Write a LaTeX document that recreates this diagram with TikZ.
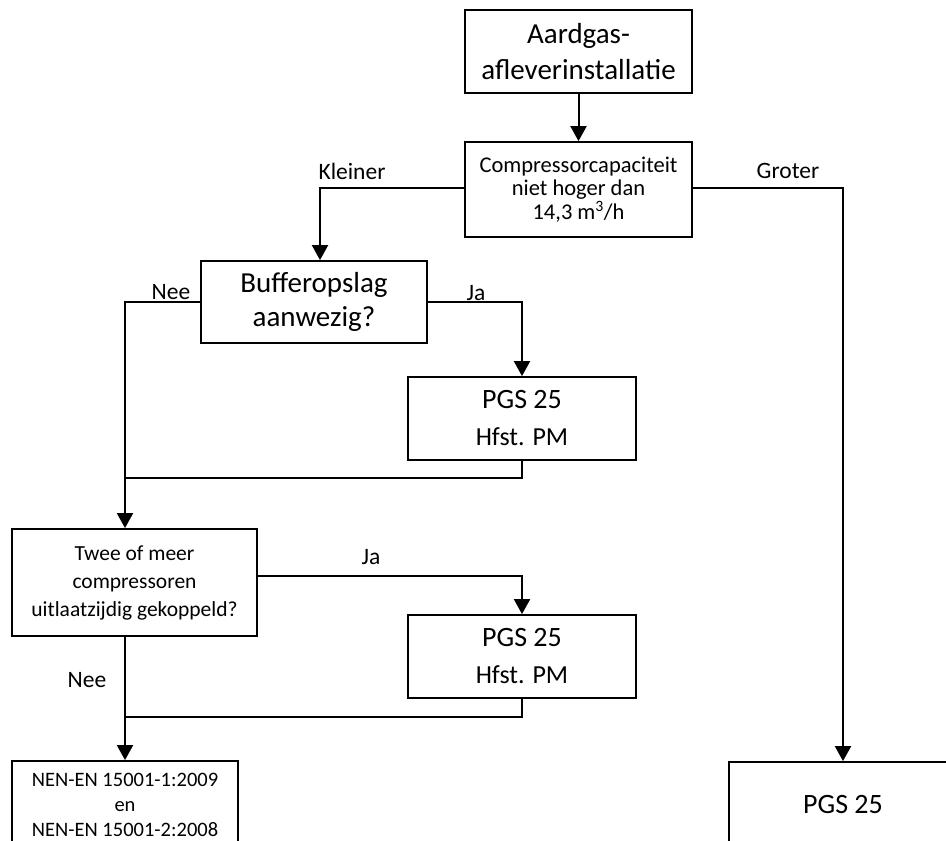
\documentclass[tikz,border=0pt]{standalone}
\usepackage{fontspec}
\setmainfont{Carlito}
\usetikzlibrary{arrows.meta}
\begin{document}
\begin{tikzpicture}[x=1pt,y=-1pt,
  box/.style={draw,line width=1.8pt,inner sep=0pt,align=center,text=black},
  bigtxt/.style={font=\fontsize{29}{34}\selectfont},
  lbl/.style={font=\fontsize{23.5}{26}\selectfont,inner sep=0pt},
  conn/.style={line width=1.6pt},
  arr/.style={line width=2pt,-{Triangle[width=16pt,length=15pt]}}]
\useasboundingbox (0,0) rectangle (946,841);

% nodes
\node[box,minimum width=227pt,minimum height=83pt,font=\fontsize{29}{36}\selectfont] (A) at (578.5,51.5) {Aardgas-\\afleverinstallatie};
\node[box,minimum width=227pt,minimum height=95pt,font=\fontsize{22.5}{23.5}\selectfont] (C) at (578.5,189.5) {Compressorcapaciteit\\niet hoger dan\\14,3 m\textsuperscript{3}/h};
\node[box,bigtxt,minimum width=226pt,minimum height=82pt] (B) at (314,302) {Bufferopslag\\aanwezig?};
\node[box,minimum width=228pt,minimum height=83pt,font=\fontsize{26}{37}\selectfont] (P1) at (522,418.5) {{\fontsize{28}{37}\selectfont PGS 25}\\Hfst. PM};
\node[box,minimum width=245pt,minimum height=107pt,font=\fontsize{21.5}{28}\selectfont] (T) at (134.5,582.5) {Twee of meer\\compressoren\\uitlaatzijdig gekoppeld?};
\node[box,minimum width=228pt,minimum height=83pt,font=\fontsize{26}{37}\selectfont] (P2) at (522,656.5) {{\fontsize{28}{37}\selectfont PGS 25}\\Hfst. PM};
\node[box,minimum width=226pt,minimum height=88pt,font=\fontsize{20.5}{25}\selectfont] (N) at (125,805) {NEN-EN 15001-1:2009\\en\\NEN-EN 15001-2:2008};
\node[box,minimum width=228pt,minimum height=86pt,font=\fontsize{28}{32}\selectfont] (R) at (843,805) {PGS 25};

% helper coordinates
\coordinate (kl) at (320,188);
\coordinate (kx) at (125,302);
\coordinate (m1) at (125,478);
\coordinate (j2) at (522,576);
\coordinate (m2) at (125,717);

% connectors
\draw[arr] (A.south) -- (C.north);
\draw[arr] (C.west |- kl) -- (kl) -- (kl |- B.north);
\draw[arr] (C.east |- kl) -| (R.north);
\draw[arr] (B.west |- kx) -- (kx) -- (kx |- T.north);
\draw[arr] (B.east |- kx) -| (P1.north);
\draw[conn] (P1.south) |- (m1);
\draw[arr] (T.east |- j2) -- (j2) -- (P2.north);
\draw[arr] (kx |- T.south) -- (N.north);
\draw[conn] (P2.south) |- (m2);

% labels
\node[lbl] (lk) at (352,171) {Kleiner};
\node[lbl] (lg) at (788,171) {Groter};
\node[lbl] (ln1) at (171,292) {Nee};
\node[lbl] (lj1) at (476,293) {Ja};
\node[lbl] (lj2) at (371,557) {Ja};
\node[lbl] (ln2) at (87,680) {Nee};
\end{tikzpicture}
\end{document}
